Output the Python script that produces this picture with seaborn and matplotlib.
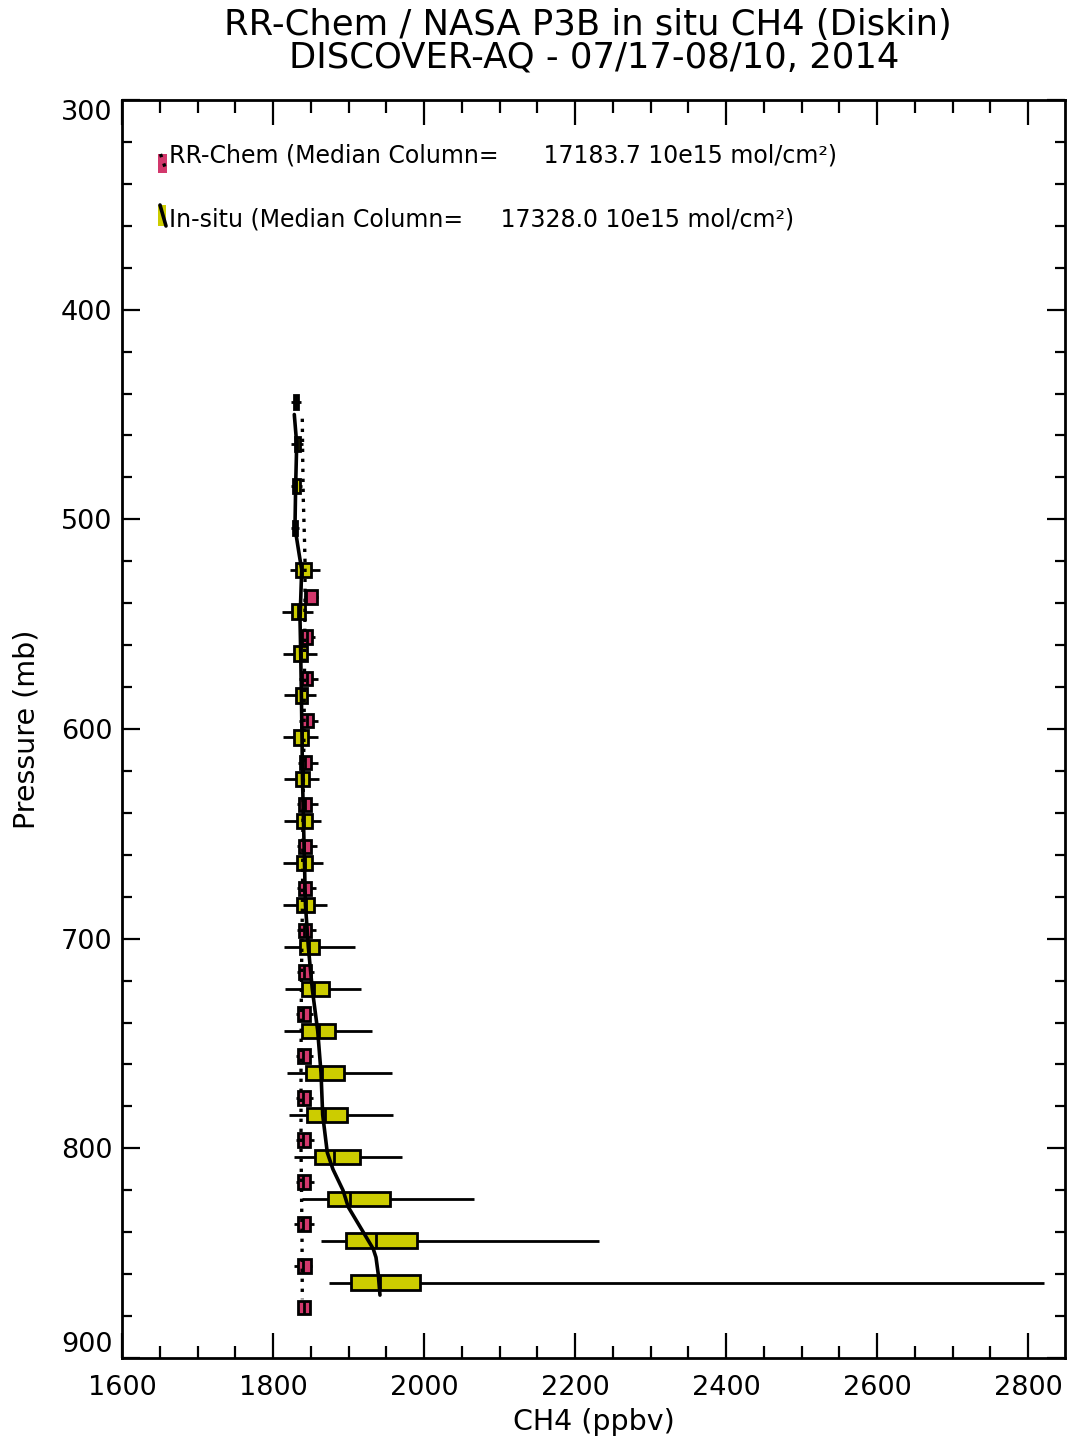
import numpy as np
import pandas as pd
import matplotlib
matplotlib.use("Agg")
import matplotlib.pyplot as plt
import seaborn as sns
from matplotlib.ticker import MultipleLocator
from matplotlib.patches import Rectangle
from matplotlib.lines import Line2D

# ---------------- data ----------------
# In-situ (NASA P3B, Diskin) box statistics per pressure bin
ins_pres = [444, 464, 484, 504, 524, 544, 564, 584, 604, 624, 644,
            664, 684, 704, 724, 744, 764, 784, 804, 824, 844, 864]
ins_wlo = [1823.4, 1823.4, 1824.0, 1824.0, 1822.5, 1812.3, 1813.6, 1815.0, 1813.6, 1815.0, 1815.0,
           1813.6, 1813.6, 1815.0, 1815.9, 1815.0, 1818.9, 1821.6, 1828.2, 1838.0, 1863.6, 1874.2]
ins_q1 = [1828.0, 1829.1, 1826.1, 1826.1, 1830.5, 1825.6, 1828.2, 1830.0, 1828.2, 1830.0, 1831.4,
          1831.4, 1831.4, 1835.8, 1838.8, 1838.8, 1843.3, 1845.4, 1855.6, 1873.2, 1896.3, 1902.9]
ins_med = [1830.5, 1831.8, 1830.5, 1827.8, 1838.8, 1833.4, 1836.7, 1837.1, 1838.0, 1839.3, 1841.1,
           1842.4, 1843.7, 1847.7, 1854.7, 1860.9, 1864.5, 1868.9, 1880.8, 1902.0, 1936.0, 1941.7]
ins_q3 = [1833.0, 1835.8, 1835.8, 1831.4, 1850.3, 1842.4, 1845.4, 1845.4, 1846.8, 1848.1, 1851.3,
          1852.0, 1854.7, 1861.3, 1874.2, 1882.1, 1894.0, 1897.6, 1915.2, 1955.0, 1990.3, 1994.7]
ins_whi = [1836.7, 1839.7, 1838.0, 1834.0, 1862.3, 1853.4, 1857.9, 1857.0, 1859.2, 1860.9, 1863.6,
           1865.8, 1871.1, 1908.6, 1916.6, 1931.5, 1958.0, 1958.6, 1970.5, 2066.2, 2232.2, 2821.2]

# RR-Chem model box statistics per pressure bin
mod_pres = [537, 556, 576, 596, 616, 636, 656, 676, 696, 716, 736, 756, 776, 796, 816, 836, 856, 876]
mod_wlo = [1841.0, 1836.0, 1835.0, 1834.0, 1833.0, 1832.0, 1832.0, 1832.0, 1832.0,
           1832.0, 1830.0, 1830.0, 1830.0, 1830.0, 1830.0, 1828.2, 1828.2, 1833.4]
mod_q1 = [1842.4, 1838.8, 1838.0, 1837.1, 1835.8, 1834.8, 1834.8, 1834.4, 1834.8,
          1834.8, 1832.7, 1833.4, 1833.4, 1832.7, 1832.7, 1832.7, 1832.7, 1833.4]
mod_med = [1843.5, 1844.6, 1844.6, 1844.6, 1842.4, 1842.4, 1841.5, 1841.5, 1841.5,
           1841.5, 1840.1, 1840.1, 1840.1, 1839.3, 1840.1, 1839.3, 1840.1, 1841.1]
mod_q3 = [1858.6, 1851.3, 1852.0, 1852.6, 1850.3, 1850.3, 1849.9, 1849.9, 1850.3,
          1850.3, 1849.0, 1849.0, 1849.0, 1849.0, 1849.0, 1849.0, 1850.3, 1849.0]
mod_whi = [1860.0, 1855.6, 1860.0, 1859.2, 1859.2, 1859.2, 1857.9, 1856.6, 1856.6,
           1854.7, 1853.4, 1853.4, 1853.4, 1854.3, 1854.7, 1854.7, 1852.0, 1849.0]

# Profile lines
ins_line_pres = [450, 464, 484, 504, 517, 524, 548, 564, 584, 604, 624, 644, 664, 684,
                 704, 724, 744, 764, 784, 802, 810, 820, 828, 840, 848, 852, 860, 870]
ins_line_val = [1828.2, 1831.4, 1830.0, 1829.1, 1834.8, 1838.0, 1835.8, 1836.7, 1837.6,
                1838.4, 1839.1, 1840.4, 1841.7, 1843.0, 1846.8, 1852.0, 1859.2, 1863.6,
                1865.8, 1871.9, 1879.4, 1892.7, 1899.7, 1919.6, 1932.8, 1936.4, 1939.4, 1941.7]
mod_line_pres = [452, 470, 490, 510, 520, 540, 560, 600, 640, 680, 720, 760, 800, 840, 872]
mod_line_val = [1838.8, 1839.3, 1840.1, 1841.7, 1842.4, 1842.4, 1842.0, 1841.1, 1839.7,
                1839.1, 1837.6, 1837.1, 1837.1, 1838.4, 1838.8]

title1 = "RR-Chem / NASA P3B in situ CH4 (Diskin)"
title2 = "DISCOVER-AQ - 07/17-08/10, 2014"
legend_labels = ["RR-Chem (Median Column=      17183.7 10e15 mol/cm\u00b2)",
                 "In-situ (Median Column=     17328.0 10e15 mol/cm\u00b2)"]
xticks = [1600, 1800, 2000, 2200, 2400, 2600, 2800]
yticks = [300, 400, 500, 600, 700, 800, 900]

PINK = "#D2386C"
YELLOW = "#CCCC00"


def box_frame(pres, wlo, q1, med, q3, whi):
    rows = []
    for p, a, b, c, d, e in zip(pres, wlo, q1, med, q3, whi):
        for v in (a, b, c, d, e):
            rows.append({"pres": p, "ch4": v})
    return pd.DataFrame(rows)


df_ins = box_frame(ins_pres, ins_wlo, ins_q1, ins_med, ins_q3, ins_whi)
df_mod = box_frame(mod_pres, mod_wlo, mod_q1, mod_med, mod_q3, mod_whi)

# ---------------- plot ----------------
sns.set_theme(style="white")
plt.rcParams["font.family"] = ["DejaVu Sans"]
plt.rcParams.update({"text.color": "black", "axes.labelcolor": "black",
                     "xtick.color": "black", "ytick.color": "black"})

W, H = 1068, 1443
fig = plt.figure(figsize=(W / 100, H / 100), dpi=100)
ax = fig.add_axes([122 / W, 1 - 1358 / H, (1065 - 122) / W, (1358 - 100) / H])

box_kw = dict(orient="y", native_scale=True, whis=np.inf, width=0.34, saturation=1,
              linecolor="black", linewidth=2.0, fliersize=0,
              capprops={"visible": False}, ax=ax)
sns.boxplot(data=df_mod, x="ch4", y="pres", color=PINK, **box_kw)
sns.boxplot(data=df_ins, x="ch4", y="pres", color=YELLOW, **box_kw)

sns.lineplot(x=mod_line_val, y=mod_line_pres, orient="y", estimator=None, color="black",
             linewidth=2.4, linestyle=(0, (1.0, 2.0)), ax=ax, zorder=5)
sns.lineplot(x=ins_line_val, y=ins_line_pres, orient="y", estimator=None, color="black",
             linewidth=2.6, ax=ax, zorder=6)

ax.set_xlim(1600, 2849)
ax.set_ylim(900, 300)
ax.set_xticks(xticks)
ax.set_yticks(yticks)
ax.xaxis.set_minor_locator(MultipleLocator(50))
ax.yaxis.set_minor_locator(MultipleLocator(20))

for s in ax.spines.values():
    s.set_visible(True)
    s.set_linewidth(2.0)
    s.set_color("black")

ax.tick_params(axis="x", which="major", direction="in", length=18, width=1.6,
               top=True, bottom=True, labelsize=19.5, pad=12, colors="black")
ax.tick_params(axis="x", which="minor", direction="in", length=9, width=1.6,
               top=True, bottom=True)
ax.tick_params(axis="y", which="major", direction="in", length=13, width=1.6,
               left=True, right=True, labelsize=19.5, pad=7, colors="black")
ax.tick_params(axis="y", which="minor", direction="in", length=7, width=1.6,
               left=True, right=True)

# end labels of the pressure axis are nudged inward, as in the original
yt = ax.yaxis.get_major_ticks()
yt[0].label1.set_verticalalignment("top")
yt[-1].label1.set_verticalalignment("bottom")

ax.set_xlabel("CH4 (ppbv)", fontsize=20.5, color="black")
ax.set_ylabel("Pressure (mb)", fontsize=20.5, color="black")
ax.xaxis.set_label_coords(0.5, -0.040)
ax.yaxis.set_label_coords(-0.086, 0.5)

fig.text(588 / W, 1 - 35 / H, title1, ha="center", va="baseline", fontsize=25.5)
fig.text(594 / W, 1 - 67 / H, title2, ha="center", va="baseline", fontsize=25.5)

# legend (drawn in axes coordinates)
def ax_x(px):
    return (px - 122) / 943


def ax_y(py):
    return 1 - (py - 100) / 1258


ax.add_patch(Rectangle((ax_x(158), ax_y(173)), 9 / 943, 19 / 1258, transform=ax.transAxes,
                       facecolor=PINK, edgecolor="none", zorder=7))
ax.add_line(Line2D([ax_x(160.5), ax_x(166)], [ax_y(154), ax_y(170)], transform=ax.transAxes,
                   color="black", linewidth=2.4, linestyle=(0, (1.0, 2.0)), zorder=8))
ax.add_patch(Rectangle((ax_x(158), ax_y(226)), 8 / 943, 21 / 1258, transform=ax.transAxes,
                       facecolor=YELLOW, edgecolor="none", zorder=7))
ax.add_line(Line2D([ax_x(160), ax_x(166)], [ax_y(205), ax_y(226)], transform=ax.transAxes,
                   color="black", linewidth=2.6, zorder=8))
ax.text(ax_x(169), ax_y(163), legend_labels[0], transform=ax.transAxes, fontsize=17,
        va="baseline", ha="left")
ax.text(ax_x(169), ax_y(226), legend_labels[1], transform=ax.transAxes, fontsize=17,
        va="baseline", ha="left")

fig.savefig("out.png", dpi=100, facecolor="white")
